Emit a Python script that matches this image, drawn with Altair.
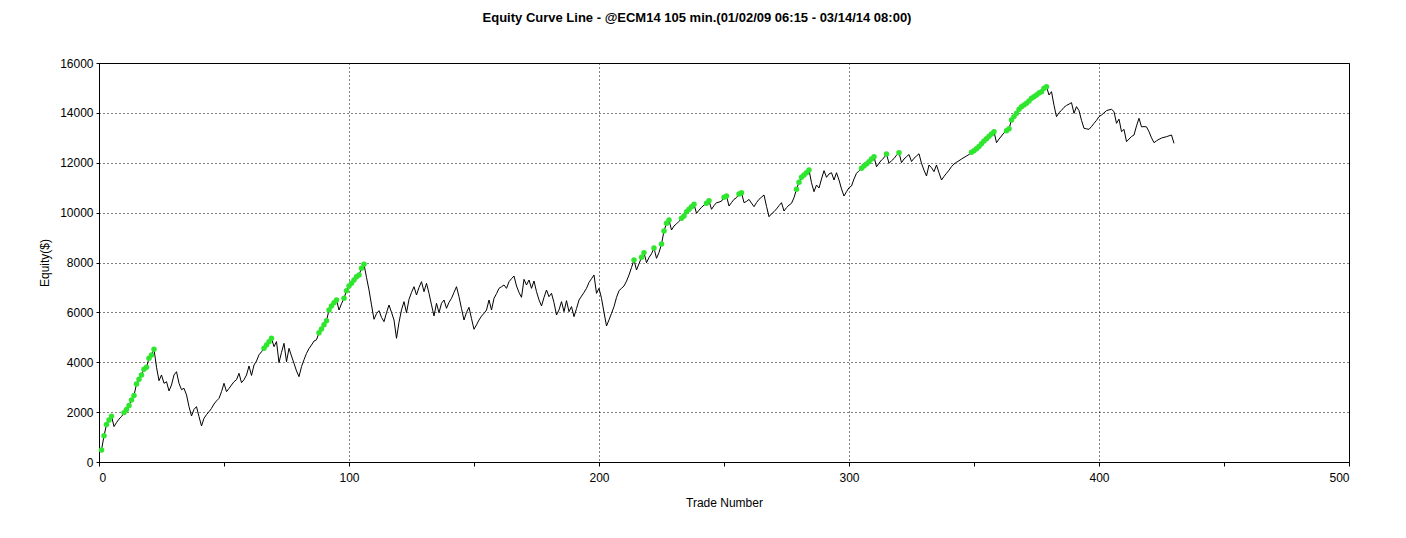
import altair as alt
import pandas as pd

# equity after each trade
equity = [
    480, 1050, 1500, 1680, 1840, 1420, 1580, 1720, 1820, 1980,
    2110, 2270, 2490, 2670, 3130, 3320, 3490, 3720, 3800, 4160,
    4290, 4520, 3800, 3260, 3490, 3155, 3220, 2850, 3090, 3490,
    3620, 3155, 2900, 2954, 2690, 2220, 1845, 2110, 2220, 1820,
    1444, 1750, 1900, 2018, 2150, 2326, 2450, 2553, 2820, 3155,
    2820, 2950, 3088, 3221, 3300, 3556, 3181, 3300, 3489, 3850,
    3470, 3890, 4050, 4300, 4420, 4558, 4692, 4826, 4960, 4625,
    4826, 3983, 4400, 4759, 4022, 4558, 4250, 3956, 3650, 3422,
    3822, 4100, 4357, 4550, 4692, 4850, 4900, 5185, 5330, 5500,
    5666, 6095, 6256, 6388, 6496, 6095, 6350, 6563, 6870, 7058,
    7165, 7300, 7432, 7500, 7767, 7927, 7400, 6900, 6300, 5722,
    5950, 6068, 5800, 5627, 5987, 6296, 6000, 5694, 4960, 5600,
    6100, 6430, 5987, 6523, 6800, 7030, 6697, 7000, 7230, 6830,
    7165, 6764, 6300, 5855, 6364, 5987, 6364, 6496, 6163, 6400,
    6563, 6800, 7030, 6630, 6150, 5694, 6000, 6203, 5750, 5321,
    5500, 5694, 5850, 5961, 6095, 6496, 6095, 6563, 6750, 6964,
    7030, 7098, 6964, 7230, 7350, 7459, 7058, 6800, 6604, 7325,
    7098, 7298, 6964, 7258, 6830, 6500, 6256, 6600, 6897, 6630,
    6764, 6390, 5895, 6100, 6430, 6028, 6470, 6028, 6230, 5828,
    6150, 6496, 6650, 6800, 6964, 7200, 7350, 7500, 6764, 6964,
    6563, 6000, 5454, 5700, 5960, 6230, 6600, 6870, 6964, 7058,
    7250, 7500, 7800, 8100, 7700, 7950, 8208, 8396, 7992, 8200,
    8350, 8581, 8168, 8400, 8742, 9263, 9572, 9704, 9303, 9464,
    9550, 9650, 9772, 9865, 10037, 10133, 10237, 10333, 9973, 10100,
    10213, 10300, 10373, 10478, 10133, 10280, 10400, 10420, 10460, 10614,
    10666, 10265, 10400, 10533, 10600, 10747, 10800, 10400, 10450, 10530,
    10380, 10238, 10400, 10533, 10620, 10707, 10250, 9837, 9950, 10037,
    10150, 10280, 10400, 10065, 10200, 10300, 10373, 10600, 10935, 11220,
    11416, 11509, 11600, 11709, 11200, 10840, 11108, 10987, 11350, 11683,
    11416, 11550, 11600, 11308, 11600, 11308, 10950, 10666, 10840, 11000,
    11068, 11350, 11577, 11680, 11777, 11870, 11950, 12042, 12150, 12243,
    11840, 11980, 12110, 12200, 12350, 11978, 12080, 12170, 12300, 12403,
    12002, 12150, 12243, 12330, 12050, 12180, 12270, 12360, 11978, 11700,
    11469, 11910, 11800, 11642, 11910, 11600, 11308, 11450, 11577, 11700,
    11843, 11950, 12020, 12082, 12150, 12210, 12270, 12330, 12420, 12480,
    12560, 12650, 12760, 12870, 12960, 13060, 13150, 13246, 12804, 12950,
    13073, 13200, 13280, 13360, 13714, 13850, 13982, 14143, 14250, 14316,
    14383, 14476, 14584, 14650, 14716, 14800, 14850, 14985, 15050, 14716,
    14850, 14300, 13848, 14010, 14100, 14223, 14300, 14350, 14410, 13982,
    14250, 14090, 13700, 13382, 13360, 13340, 13450, 13580, 13700, 13850,
    13915, 14000, 14090, 14120, 14143, 14050, 13580, 13750, 13246, 13340,
    12845, 12950, 13050, 13113, 13475, 13783, 13440, 13450, 13440, 13246,
    13000, 12804, 12880, 12940, 12990, 13020, 13045, 13080, 13113, 12778,
]
trades = list(range(1, len(equity) + 1))

x_ticks = list(range(0, 501, 50))
y_ticks = list(range(0, 16001, 1000))

title = "Equity Curve Line - @ECM14 105 min.(01/02/09 06:15 - 03/14/14 08:00)"
font = "Liberation Sans"

df = pd.DataFrame({"trade": trades, "equity": equity})
# green dots mark new equity highs
df["new_high"] = df["equity"] >= df["equity"].cummax()

x_enc = alt.X(
    "trade:Q",
    scale=alt.Scale(domain=[0, 500], nice=False),
    axis=alt.Axis(
        values=x_ticks,
        labelExpr="datum.value % 100 === 0 ? datum.label : ''",
        gridOpacity={"condition": {"test": "datum.value % 100 === 0", "value": 1}, "value": 0},
        tickSize=4,
        labelPadding=6,
        titlePadding=14,
        title="Trade Number",
    ),
)
y_enc = alt.Y(
    "equity:Q",
    scale=alt.Scale(domain=[0, 16000], nice=False),
    axis=alt.Axis(
        values=y_ticks,
        format="d",
        labelExpr="datum.value % 2000 === 0 ? datum.label : ''",
        gridOpacity={"condition": {"test": "datum.value % 2000 === 0", "value": 1}, "value": 0},
        tickSize=3,
        labelPadding=3,
        titlePadding=8,
        title="Equity($)",
    ),
)

line = alt.Chart(df).mark_line(color="black", strokeWidth=1).encode(x=x_enc, y=y_enc)

dots = (
    alt.Chart(df)
    .transform_filter("datum.new_high")
    .mark_circle(color="#2ee62e", size=30, opacity=1)
    .encode(x="trade:Q", y="equity:Q")
)

chart = (
    (line + dots)
    .properties(
        width=1250,
        height=399,
        autosize=alt.AutoSizeParams(type="none"),
        padding={"left": 91, "top": 55, "right": 40, "bottom": 50},
        title=alt.TitleParams(
            title, font=font, fontSize=13, fontWeight="bold", color="black", offset=32, dx=-27
        ),
    )
    .configure_view(stroke="black", strokeWidth=1)
    .configure_axis(
        labelFont=font,
        labelFontSize=12,
        labelColor="black",
        titleFont=font,
        titleFontSize=12,
        titleFontWeight="normal",
        titleColor="black",
        domainColor="black",
        tickColor="black",
        gridColor="black",
        gridDash=[1, 3],
        labelOverlap=False,
    )
)

chart.save("out.html", embed_options={"renderer": "svg", "actions": False})
